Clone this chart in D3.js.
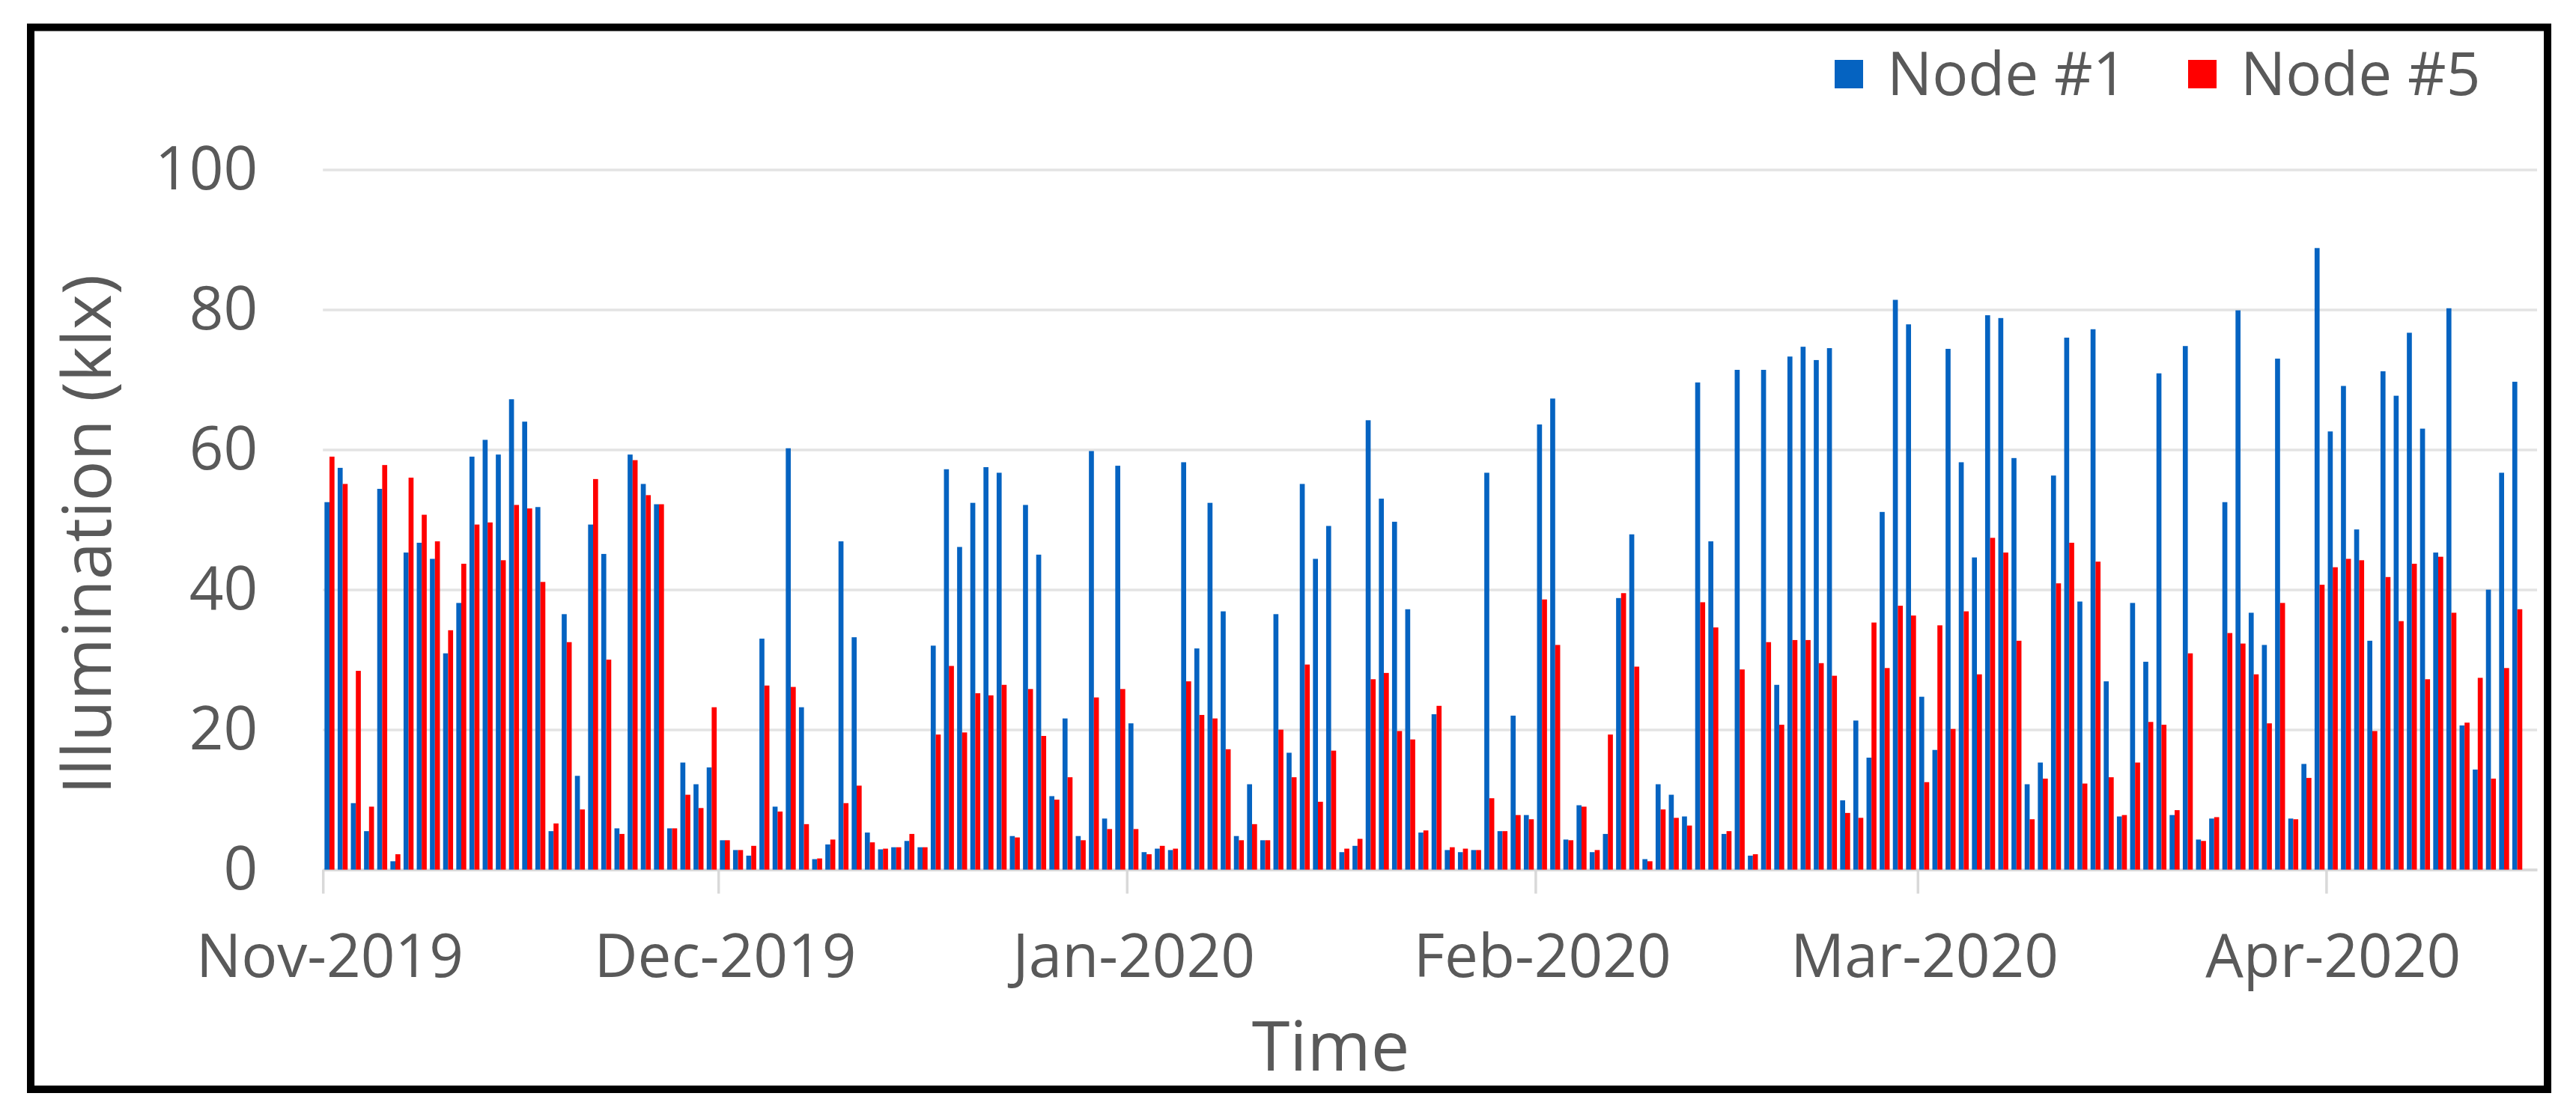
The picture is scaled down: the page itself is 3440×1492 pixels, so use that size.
<!DOCTYPE html>
<html><head><meta charset="utf-8">
<script src="https://cdn.jsdelivr.net/npm/d3@7"></script>
<style>
body{margin:0;background:#fff}
svg{display:block}
text{font-family:"Open Sans",sans-serif}
</style>
</head><body>
<svg id="chart" width="3440" height="1492"></svg>
<script>
// ---- data ----
const startDate = new Date(Date.UTC(2019, 10, 1));
const endDate = new Date(Date.UTC(2020, 3, 17)); // exclusive end of category axis
const monthStarts = [Date.UTC(2019,10,1), Date.UTC(2019,11,1), Date.UTC(2020,0,1), Date.UTC(2020,1,1), Date.UTC(2020,2,1), Date.UTC(2020,3,1)];
const monthLabels = ["Nov-2019", "Dec-2019", "Jan-2020", "Feb-2020", "Mar-2020", "Apr-2020"];
const yTicks = [0, 20, 40, 60, 80, 100];
const seriesNames = ["Node #1", "Node #5"];
const seriesColors = ["#0563C1", "#FF0000"];

const node1 = [
52.5,57.4,9.5,5.5,54.4,1.2,45.3,46.7,44.4,30.9,38.1,59.0,61.4,59.3,67.2,64.0,51.8,5.5,36.5,13.4,
49.3,45.1,5.9,59.3,55.1,52.2,5.9,15.3,12.2,14.6,
4.2,2.8,2.0,33.0,9.0,60.2,23.2,1.5,3.6,46.9,33.2,5.3,2.9,3.2,4.1,3.2,32.0,57.2,46.1,52.4,
57.5,56.7,4.8,52.1,45.0,10.5,21.6,4.8,59.8,7.3,57.7,
20.9,2.5,3.0,2.8,58.2,31.6,52.4,36.9,4.8,12.2,4.2,36.5,16.7,55.1,44.4,49.1,2.5,3.4,64.2,53.0,
49.7,37.2,5.3,22.2,2.8,2.5,2.8,56.7,5.5,22.0,7.8,
63.6,67.3,4.3,9.2,2.5,5.1,38.8,47.9,1.5,12.2,10.7,7.6,69.6,46.9,5.1,71.4,2.0,71.4,26.4,73.3,
74.7,72.8,74.5,9.9,21.3,16.0,51.1,81.4,77.9,
24.7,17.1,74.4,58.2,44.6,79.2,78.8,58.8,12.2,15.3,56.3,76.0,38.3,77.2,26.9,7.6,38.1,29.7,70.9,7.8,
74.8,4.3,7.3,52.5,79.9,36.7,32.1,73.0,7.3,15.1,88.8,
62.6,69.1,48.6,32.7,71.2,67.7,76.7,63.0,45.3,80.2,20.6,14.3,40.0,56.7,69.7
];
const node5 = [
59.0,55.1,28.4,9.0,57.8,2.2,56.0,50.7,46.9,34.2,43.7,49.3,49.6,44.2,52.1,51.6,41.1,6.6,32.5,8.6,
55.8,30.0,5.1,58.5,53.5,52.2,5.9,10.7,8.8,23.2,
4.2,2.8,3.4,26.3,8.3,26.1,6.5,1.6,4.3,9.5,12.0,3.9,3.0,3.2,5.1,3.2,19.3,29.1,19.6,25.2,
24.9,26.4,4.6,25.8,19.1,10.0,13.2,4.2,24.6,5.8,25.8,
5.8,2.2,3.4,3.0,26.9,22.1,21.6,17.2,4.2,6.5,4.2,20.0,13.2,29.3,9.7,17.0,3.0,4.4,27.2,28.1,
19.8,18.6,5.6,23.4,3.2,3.0,2.8,10.2,5.5,7.8,7.2,
38.6,32.1,4.2,9.0,2.8,19.3,39.5,29.0,1.2,8.6,7.4,6.3,38.2,34.6,5.5,28.6,2.2,32.5,20.7,32.8,
32.8,29.5,27.7,8.1,7.4,35.3,28.8,37.7,36.3,
12.5,34.9,20.1,36.9,27.9,47.4,45.3,32.7,7.2,13.0,40.9,46.7,12.3,44.0,13.2,7.8,15.3,21.1,20.7,8.5,
30.9,4.1,7.5,33.8,32.3,27.9,20.9,38.1,7.2,13.1,40.7,
43.2,44.4,44.2,19.8,41.8,35.5,43.7,27.2,44.7,36.7,21.0,27.4,13.0,28.8,37.2
];

// ---- layout ----
const svg = d3.select("#chart");
const M = {left: 431.2, top: 226.6};
const W = 2956.8, H = 935;
const textColor = "#595959";

svg.append("rect").attr("width", 3440).attr("height", 1492).attr("fill", "#fff");

const g = svg.append("g").attr("transform", `translate(${M.left},${M.top})`);

const days = d3.utcDay.range(startDate, endDate);
const x0 = d3.scaleBand().domain(days.map(d => d.getTime())).range([0, W]).paddingInner(0).paddingOuter(0);
const x1 = d3.scaleBand().domain([0, 1]).range([0, x0.bandwidth()]).paddingInner(0).paddingOuter(0.32);
const y = d3.scaleLinear().domain([0, 100]).range([H, 0]);
const xt = d3.scaleUtc().domain([startDate, endDate]).range([0, W]);

// gridlines + y labels
const yAxis = g.append("g")
  .call(d3.axisLeft(y).tickValues(yTicks).tickSize(-W).tickPadding(87).tickFormat(d3.format("d")));
yAxis.select(".domain").remove();
yAxis.selectAll(".tick line").attr("stroke", "#e3e3e3").attr("stroke-width", 3.5);
yAxis.selectAll(".tick text").attr("font-size", 80).attr("fill", textColor).attr("font-family", "Open Sans");

// x axis line + tick marks
const xAxis = g.append("g").attr("transform", `translate(0,${H})`)
  .call(d3.axisBottom(xt).tickValues(monthStarts.map(d => new Date(d))).tickSize(32).tickSizeOuter(0).tickFormat(""));
xAxis.select(".domain").attr("stroke", "#d9d9d9").attr("stroke-width", 3.5);
xAxis.selectAll(".tick line").attr("stroke", "#d9d9d9").attr("stroke-width", 3.5);

// x labels centred under first day of each month
const xLab = g.append("g").attr("transform", `translate(0,${H})`)
  .call(d3.axisBottom(xt).tickValues(monthStarts.map(d => new Date(d + 12 * 3600e3))).tickSize(0).tickPadding(87)
    .tickFormat((d, i) => monthLabels[i]));
xLab.select(".domain").remove();
xLab.selectAll(".tick text").attr("font-size", 80).attr("fill", textColor).attr("font-family", "Open Sans");

// bars
const rows = node1.map((v, i) => ({key: days[i].getTime(), vals: [v, node5[i]]}));
const grp = g.append("g").selectAll("g").data(rows).join("g")
  .attr("transform", d => `translate(${x0(d.key)},0)`);
grp.selectAll("rect").data(d => d.vals.map((v, s) => ({v, s}))).join("rect")
  .attr("x", d => x1(d.s))
  .attr("width", x1.bandwidth())
  .attr("y", d => y(d.v))
  .attr("height", d => H - y(d.v))
  .attr("fill", d => seriesColors[d.s]);

// axis titles
svg.append("text").attr("transform", "translate(113,714) rotate(-90)")
  .attr("text-anchor", "middle").attr("dominant-baseline", "central")
  .attr("font-size", 90).attr("fill", textColor).text("Illumination (klx)");
svg.append("text").attr("x", 1777).attr("y", 1430).attr("text-anchor", "middle")
  .attr("font-size", 92).attr("fill", textColor).text("Time");

// legend
const legX = [2450, 2922];
const leg = svg.append("g").selectAll("g").data(seriesNames).join("g")
  .attr("transform", (d, i) => `translate(${legX[i]},0)`);
leg.append("rect").attr("x", 0).attr("y", 80).attr("width", 38).attr("height", 38)
  .attr("fill", (d, i) => seriesColors[i]);
leg.append("text").attr("x", 70).attr("y", 127).attr("font-size", 80).attr("fill", textColor).text(d => d);

// frame
svg.append("rect").attr("x", 41).attr("y", 36.5).attr("width", 3361).attr("height", 1418.5)
  .attr("fill", "none").attr("stroke", "#000").attr("stroke-width", 10);
</script>
</body></html>
